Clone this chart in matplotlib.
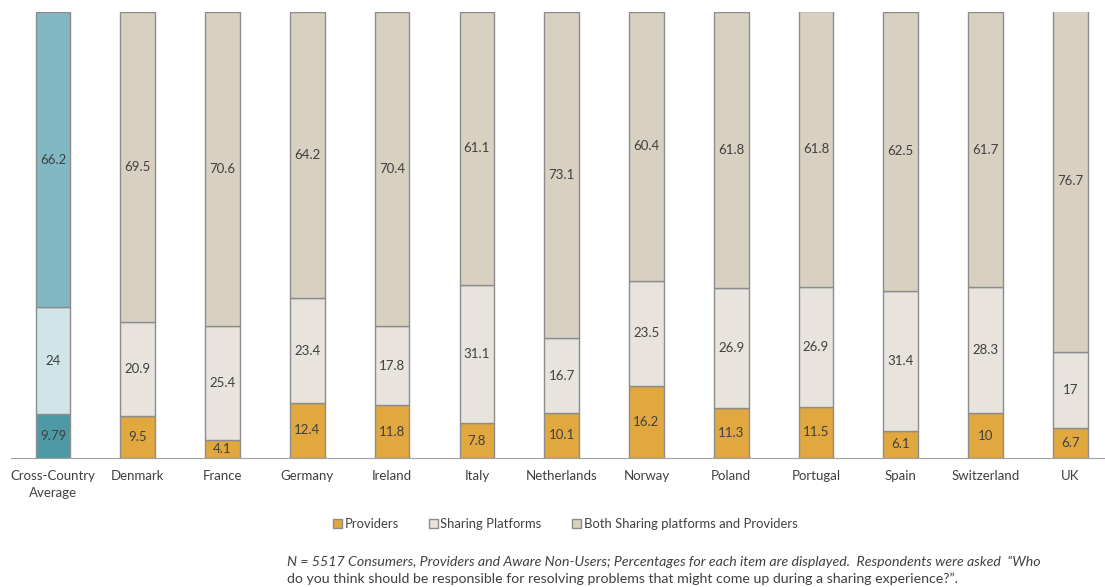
import matplotlib
matplotlib.use("Agg")
import matplotlib.pyplot as plt
from matplotlib.patches import Patch

categories = ["Cross-Country\nAverage", "Denmark", "France", "Germany", "Ireland", "Italy",
              "Netherlands", "Norway", "Poland", "Portugal", "Spain", "Switzerland", "UK"]
providers = [9.79, 9.5, 4.1, 12.4, 11.8, 7.8, 10.1, 16.2, 11.3, 11.5, 6.1, 10, 6.7]
platforms = [24, 20.9, 25.4, 23.4, 17.8, 31.1, 16.7, 23.5, 26.9, 26.9, 31.4, 28.3, 17]
both = [66.2, 69.5, 70.6, 64.2, 70.4, 61.1, 73.1, 60.4, 61.8, 61.8, 62.5, 61.7, 76.7]

plt.rcParams['font.family'] = ['Lato', 'DejaVu Sans']
txt = '#404040'
edge = '#8c8c8c'

c_prov = ['#4E9AA4'] + ['#E0A83E'] * 12
c_plat = ['#D0E5E8'] + ['#E8E4DD'] * 12
c_both = ['#80B9C3'] + ['#D8D0C1'] * 12

fig = plt.figure(figsize=(11.05, 5.87), dpi=100)
ax = fig.add_axes([11/1105, 1 - 458/587, 1 - 11/1105, (458 - 12)/587])
x = list(range(len(categories)))
w = 0.41
ax.bar(x, providers, w, color=c_prov, edgecolor=edge, linewidth=1)
ax.bar(x, platforms, w, bottom=providers, color=c_plat, edgecolor=edge, linewidth=1)
b2 = [p + q for p, q in zip(providers, platforms)]
ax.bar(x, both, w, bottom=b2, color=c_both, edgecolor=edge, linewidth=1)

for i in x:
    ax.text(i, providers[i] / 2, f"{providers[i]:g}", ha='center', va='center', fontsize=9.5, color=txt)
    ax.text(i, providers[i] + platforms[i] / 2, f"{platforms[i]:g}", ha='center', va='center', fontsize=9.5, color=txt)
    ax.text(i, b2[i] + both[i] / 2, f"{both[i]:g}", ha='center', va='center', fontsize=9.5, color=txt)

ax.set_xlim(-0.496, 12.41)
ax.set_ylim(0, 100)
for s in ['top', 'right', 'left']:
    ax.spines[s].set_visible(False)
ax.spines['bottom'].set_color('#a0a0a0')
ax.set_yticks([])
ax.set_xticks(x)
ax.set_xticklabels(categories, fontsize=9.5, color=txt, linespacing=1.45)
ax.tick_params(axis='x', length=0, pad=9)

handles = [Patch(facecolor='#E0A83E', edgecolor=edge, label='Providers'),
           Patch(facecolor='#E8E4DD', edgecolor=edge, label='Sharing Platforms'),
           Patch(facecolor='#D8D0C1', edgecolor=edge, label='Both Sharing platforms and Providers')]
fig.legend(handles=handles, loc='center', bbox_to_anchor=(565/1105, 1 - 524/587), ncol=3,
           frameon=False, fontsize=9.4, handlelength=0.7, handleheight=0.7, handletextpad=0.2,
           columnspacing=2.3, labelcolor=txt)

fig.text(287/1105, 1 - 562/587,
         "N = 5517 Consumers, Providers and Aware Non-Users; Percentages for each item are displayed.  Respondents were asked  \u201cWho",
         fontsize=10.2, style='italic', color=txt, va='center')
fig.text(287/1105, 1 - 579/587,
         "do you think should be responsible for resolving problems that might come up during a sharing experience?\u201d.",
         fontsize=10.2, color=txt, va='center')

fig.savefig("out.png", dpi=100)
